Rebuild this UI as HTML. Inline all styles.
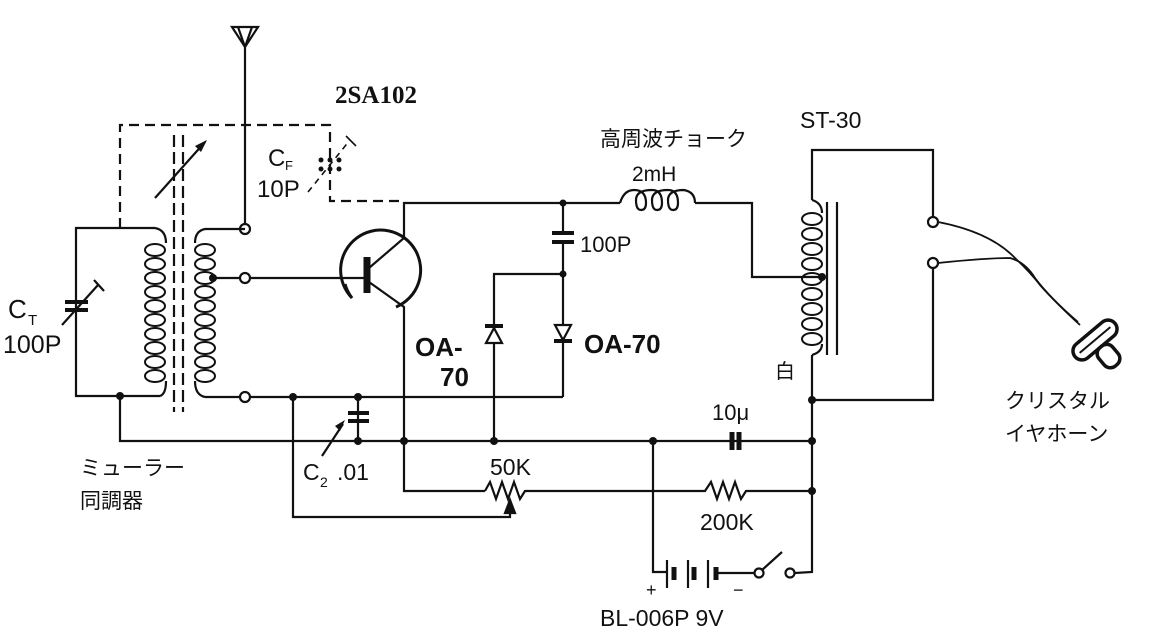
<!DOCTYPE html>
<html><head><meta charset="utf-8"><style>
html,body{margin:0;padding:0;background:#fff}
svg{display:block}
text{font-family:"Liberation Sans","Noto Sans CJK JP",sans-serif;fill:#111}
</style></head><body>
<svg width="1167" height="634" viewBox="0 0 1167 634" xmlns="http://www.w3.org/2000/svg">
<g stroke="#111" stroke-width="2.2" fill="none">
<path d="M232,27 L258,27 L245,47 Z M238,27 L245,47 L252,27"/>
<line x1="245" y1="47" x2="245" y2="224"/>
<circle cx="245" cy="229" r="5" fill="#fff"/>
<path d="M120,228 L120,125 L330,125 L330,201 L400,201" stroke-dasharray="10,6"/>
<line x1="174" y1="135" x2="174" y2="412" stroke-dasharray="12,5"/>
<line x1="183" y1="135" x2="183" y2="412" stroke-dasharray="12,5"/>
<line x1="155" y1="198" x2="205" y2="142"/>
<path d="M155,228 L76,228 L76,396 L160,396"/>
<path d="M155,228 Q166,230 166,243 M160,396 Q166,394 166,381"/>
<line x1="65" y1="302" x2="88" y2="302" stroke-width="4"/>
<line x1="65" y1="310" x2="88" y2="310" stroke-width="4"/>
<line x1="62" y1="325" x2="98" y2="285"/><line x1="94" y1="280" x2="104" y2="291"/>
<path d="M245,229 L205,229 Q195,231 195,243 M205,397 Q195,395 195,381"/>
<line x1="210" y1="278" x2="240" y2="278"/>
<circle cx="245" cy="278" r="5" fill="#fff"/>
<line x1="250" y1="278" x2="365" y2="278"/>
<line x1="205" y1="397" x2="240" y2="397"/>
<circle cx="245" cy="397" r="5" fill="#fff"/>
<line x1="250" y1="397" x2="563" y2="397"/>
<path d="M120,396 L120,441 L812,441"/>
<line x1="358" y1="397" x2="358" y2="441"/>
<line x1="348" y1="413" x2="369" y2="413" stroke-width="4"/>
<line x1="348" y1="421" x2="369" y2="421" stroke-width="4"/>
<line x1="322" y1="456" x2="343" y2="424"/>
<path d="M293,397 L293,517 L510,517 L510,505"/>
<path d="M352,298 A40,40 0 1 1 396,307" stroke-width="3"/>
<path d="M352,298 A40,40 0 0 1 345,284" stroke-width="3"/>
<line x1="367" y1="257" x2="367" y2="293" stroke-width="7"/>
<path d="M369,268 L404,238 L404,203 L620,203"/>
<path d="M369,282 L404,307 L404,491 L485,491"/>
<path d="M620,203 Q624,190 634,190 Q646,190 646,203 Q646,210 641,210 Q636,210 636,200 Q636,190 652,190 Q662,190 662,203 Q662,210 657,210 Q652,210 652,200 Q652,190 668,190 Q678,190 678,203 Q678,210 673,210 Q668,210 668,200 Q668,190 684,190 Q695,192 695,203"/>
<path d="M695,203 L752,203 L752,277 L822,277"/>
<line x1="563" y1="203" x2="563" y2="232"/>
<line x1="552" y1="233" x2="574" y2="233" stroke-width="4"/>
<line x1="552" y1="242" x2="574" y2="242" stroke-width="4"/>
<line x1="563" y1="243" x2="563" y2="397"/>
<path d="M563,274 L494,274 L494,441"/>
<path d="M555,325 L571,325 L563,340 Z" fill="#fff"/>
<line x1="554" y1="341" x2="572" y2="341" stroke-width="4"/>
<path d="M486,343 L502,343 L494,328 Z" fill="#fff"/>
<line x1="485" y1="326" x2="503" y2="326" stroke-width="4"/>
<path d="M485,491 L490,482 L496,499 L502,482 L508,499 L514,482 L520,499 L525,491 L653,491"/>
<path d="M505,513 L510,500 L515,513 Z" fill="#111"/>
<path d="M653,491 L705,491 L711,482 L717,499 L723,482 L729,499 L735,482 L741,499 L746,491 L812,491"/>
<line x1="732" y1="432" x2="732" y2="450" stroke-width="5"/>
<line x1="739" y1="432" x2="739" y2="450" stroke-width="5"/>
<path d="M653,441 L653,572 L666,572"/>
<line x1="667" y1="560" x2="667" y2="588"/>
<line x1="674" y1="567" x2="674" y2="580" stroke-width="5"/>
<line x1="688" y1="560" x2="688" y2="588"/>
<line x1="694" y1="567" x2="694" y2="580" stroke-width="5"/>
<line x1="708" y1="560" x2="708" y2="588"/>
<line x1="716" y1="567" x2="716" y2="580" stroke-width="5"/>
<line x1="718" y1="573" x2="755" y2="573"/>
<circle cx="759" cy="573" r="4.5" fill="#fff"/>
<line x1="762" y1="570" x2="782" y2="552"/>
<circle cx="790" cy="573" r="4.5" fill="#fff"/>
<path d="M795,573 L812,572 L812,400"/>
<path d="M812,400 L812,355 M812,200 L812,150 L933,150 L933,217 M933,268 L933,400 L812,400"/>
<path d="M812,200 Q822,203 822,213 M812,355 Q822,352 822,344"/>
<line x1="827" y1="202" x2="827" y2="355"/>
<line x1="837" y1="202" x2="837" y2="355"/>
<circle cx="933" cy="222" r="5" fill="#fff"/>
<circle cx="933" cy="263" r="5" fill="#fff"/>
<path d="M938,222 Q990,232 1015,258 Q1030,272 1040,285 Q1055,302 1080,325" stroke-width="1.8"/>
<path d="M938,263 Q985,258 1010,258 Q1025,262 1035,278 Q1050,298 1078,322" stroke-width="1.8"/>
<g transform="translate(1095,340) rotate(-40)">
<rect x="-26" y="-9" width="52" height="18" rx="9" stroke-width="3.5"/>
<line x1="-20" y1="0" x2="20" y2="0" stroke-width="2"/>
<rect x="-9" y="9" width="18" height="24" rx="8" stroke-width="3.5"/>
</g>
</g>
<g stroke="#111" stroke-width="2" fill="none">
<ellipse cx="155" cy="250" rx="10" ry="6"/><ellipse cx="155" cy="264" rx="10" ry="6"/><ellipse cx="155" cy="278" rx="10" ry="6"/><ellipse cx="155" cy="292" rx="10" ry="6"/><ellipse cx="155" cy="306" rx="10" ry="6"/><ellipse cx="155" cy="320" rx="10" ry="6"/><ellipse cx="155" cy="334" rx="10" ry="6"/><ellipse cx="155" cy="348" rx="10" ry="6"/><ellipse cx="155" cy="362" rx="10" ry="6"/><ellipse cx="155" cy="376" rx="10" ry="6"/>
<ellipse cx="205" cy="250" rx="10" ry="6"/><ellipse cx="205" cy="264" rx="10" ry="6"/><ellipse cx="205" cy="278" rx="10" ry="6"/><ellipse cx="205" cy="292" rx="10" ry="6"/><ellipse cx="205" cy="306" rx="10" ry="6"/><ellipse cx="205" cy="320" rx="10" ry="6"/><ellipse cx="205" cy="334" rx="10" ry="6"/><ellipse cx="205" cy="348" rx="10" ry="6"/><ellipse cx="205" cy="362" rx="10" ry="6"/><ellipse cx="205" cy="376" rx="10" ry="6"/>
<ellipse cx="812" cy="219" rx="10" ry="6"/><ellipse cx="812" cy="234" rx="10" ry="6"/><ellipse cx="812" cy="249" rx="10" ry="6"/><ellipse cx="812" cy="264" rx="10" ry="6"/><ellipse cx="812" cy="279" rx="10" ry="6"/><ellipse cx="812" cy="294" rx="10" ry="6"/><ellipse cx="812" cy="309" rx="10" ry="6"/><ellipse cx="812" cy="324" rx="10" ry="6"/><ellipse cx="812" cy="339" rx="10" ry="6"/>
</g>
<g fill="#111">
<circle cx="120" cy="396" r="4"/><circle cx="293" cy="397" r="4"/><circle cx="358" cy="397" r="4"/><circle cx="358" cy="441" r="4"/>
<circle cx="404" cy="441" r="4"/><circle cx="494" cy="441" r="4"/><circle cx="653" cy="441" r="4"/><circle cx="812" cy="441" r="4"/>
<circle cx="563" cy="203" r="3.5"/><circle cx="563" cy="274" r="3.5"/><circle cx="812" cy="400" r="4"/><circle cx="812" cy="491" r="4"/>
<circle cx="822" cy="277" r="4"/><circle cx="213" cy="278" r="4"/>
<polygon points="207,140 195,146 201,152"/>
<polygon points="345,420 335,426 340,431"/>
<circle cx="321" cy="160" r="2.5"/><circle cx="330" cy="160" r="2.5"/><circle cx="321" cy="169" r="2.5"/><circle cx="330" cy="169" r="2.5"/><circle cx="339" cy="160" r="2.5"/><circle cx="339" cy="169" r="2.5"/>
</g>
<line x1="308" y1="192" x2="350" y2="140" stroke="#111" stroke-width="1.6" stroke-dasharray="6,5"/>
<line x1="346" y1="136" x2="356" y2="146" stroke="#111" stroke-width="1.6"/>
<text x="335" y="103" font-weight="bold" font-size="25" style="font-family:'Liberation Serif',serif">2SA102</text>
<text x="268" y="166" font-size="24">C</text><text x="285" y="170" font-size="13">F</text>
<text x="257" y="197" font-size="24">10P</text>
<text x="8" y="318" font-size="26">C</text><text x="28" y="325" font-size="15">T</text>
<text x="3" y="353" font-size="25">100P</text>
<text x="580" y="252" font-size="22">100P</text>
<text x="600" y="146" font-size="21">高周波チョーク</text>
<text x="632" y="181" font-size="21">2mH</text>
<text x="800" y="128" font-size="23">ST-30</text>
<text x="415" y="356" font-size="26" font-weight="bold">OA-</text>
<text x="440" y="386" font-size="26" font-weight="bold">70</text>
<text x="584" y="353" font-size="26" font-weight="bold">OA-70</text>
<text x="775" y="378" font-size="20">白</text>
<text x="712" y="420" font-size="22">10μ</text>
<text x="80" y="475" font-size="21">ミューラー</text>
<text x="80" y="508" font-size="21">同調器</text>
<text x="303" y="480" font-size="23">C</text><text x="320" y="487" font-size="14">2</text><text x="337" y="480" font-size="23">.01</text>
<text x="490" y="475" font-size="23">50K</text>
<text x="700" y="530" font-size="23">200K</text>
<text x="646" y="596" font-size="18">+</text><text x="733" y="596" font-size="18">−</text>
<text x="600" y="626" font-size="23">BL-006P  9V</text>
<text x="1005" y="408" font-size="21">クリスタル</text>
<text x="1005" y="441" font-size="21">イヤホーン</text>
</svg>
</body></html>
